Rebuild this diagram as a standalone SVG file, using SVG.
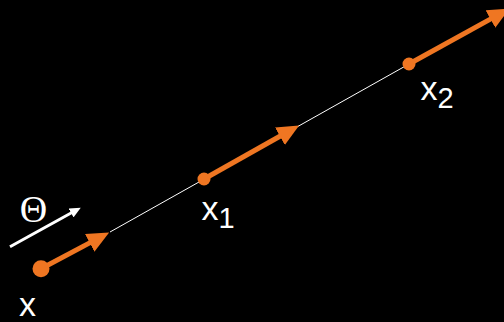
<svg xmlns="http://www.w3.org/2000/svg" width="504" height="322" viewBox="0 0 504 322">
<defs>
<marker id="oh" viewBox="0 -10 22 20" markerWidth="22" markerHeight="20" refX="1" refY="0" markerUnits="userSpaceOnUse" orient="auto">
<path d="M0,-10 L22,0 L0,10 z" fill="#EF7622"/>
</marker>
<marker id="wh" viewBox="0 -5 11 10" markerWidth="11" markerHeight="10" refX="1" refY="0" markerUnits="userSpaceOnUse" orient="auto">
<path d="M0,-5 L11,0 L0,5 z" fill="#ffffff"/>
</marker>
<style>
.lbl{font-family:"Liberation Sans",Arial,sans-serif;fill:#ffffff;}
.ser{font-family:"Liberation Serif","Times New Roman",serif;fill:#ffffff;}
.oarr{stroke:#EF7622;stroke-width:5;fill:none;marker-end:url(#oh);}
.dot{fill:#EF7622;}
</style>
</defs>
<rect width="504" height="322" fill="#000000"/>
<g id="connectors">
<line x1="110" y1="232" x2="409" y2="64" stroke="#ffffff" stroke-width="1"/>
<line class="oarr" x1="41" y1="268.7" x2="90.6" y2="242.4"/>
<line class="oarr" x1="204" y1="179" x2="280.8" y2="135.8"/>
<line class="oarr" x1="409" y1="64" x2="491.3" y2="18.6"/>
</g>
<g id="theta">
<line x1="10" y1="246.7" x2="72" y2="212.5" stroke="#ffffff" stroke-width="3" marker-end="url(#wh)"/>
<text class="ser" x="33.5" y="222" font-size="38" text-anchor="middle">Θ</text>
</g>
<g id="node-x">
<circle class="dot" cx="41" cy="268.7" r="8.5"/>
<text class="lbl" x="19" y="316" font-size="34">x</text>
</g>
<g id="node-x1">
<circle class="dot" cx="204" cy="179" r="6.5"/>
<text class="lbl" x="201.5" y="220" font-size="34">x<tspan font-size="29" dy="8">1</tspan></text>
</g>
<g id="node-x2">
<circle class="dot" cx="409" cy="64" r="6.5"/>
<text class="lbl" x="420.5" y="100" font-size="34">x<tspan font-size="29" dy="8">2</tspan></text>
</g>
</svg>
